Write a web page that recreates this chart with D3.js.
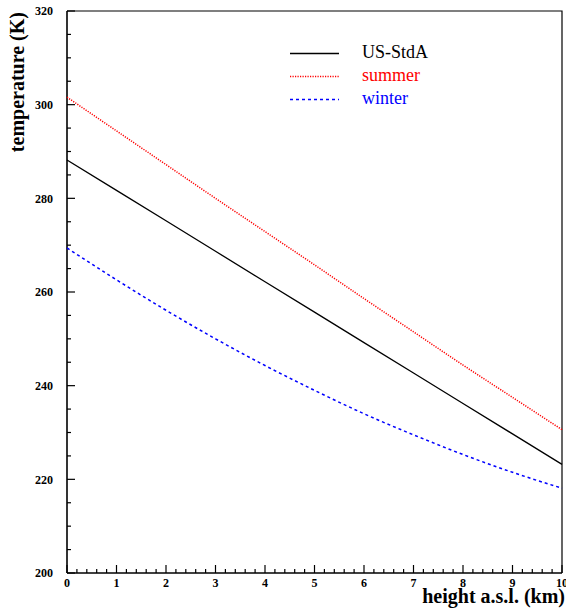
<!DOCTYPE html>
<html>
<head>
<meta charset="utf-8">
<script src="https://cdn.jsdelivr.net/npm/d3@7"></script>
<style>
  html, body { margin: 0; padding: 0; background: #fff; }
  svg { display: block; }
  .tick-label { font-family: "Liberation Serif", "Times New Roman", serif; font-weight: bold; font-size: 12px; fill: #000; }
  .axis-title { font-family: "Liberation Serif", "Times New Roman", serif; font-weight: bold; font-size: 20px; fill: #000; }
  .legend-text { font-family: "Liberation Serif", "Times New Roman", serif; font-size: 18px; }
</style>
</head>
<body>
<script>
// Height above sea level (km) and temperature profiles (K)
const heights   = [0, 1, 2, 3, 4, 5, 6, 7, 8, 9, 10];
const usStdA    = [288.2, 281.7, 275.2, 268.7, 262.2, 255.7, 249.2, 242.7, 236.2, 229.7, 223.2];
const summer    = [301.6, 294.4, 287.2, 280.0, 272.9, 265.8, 258.6, 251.5, 244.4, 237.5, 230.6];
const winter    = [269.4, 262.6, 256.1, 250.0, 244.3, 239.0, 234.0, 229.5, 225.3, 221.5, 218.1];

const seriesNames  = ["US-StdA", "summer", "winter"];
const seriesColors = ["#000000", "#ff0000", "#0000ff"];
const seriesDash   = [null, "1.2,1.3", "3,3"];

const xTicks = [0, 1, 2, 3, 4, 5, 6, 7, 8, 9, 10];
const yTicks = [200, 220, 240, 260, 280, 300, 320];

const W = 566, H = 611;
const plot = { left: 67, right: 562, top: 11, bottom: 573 };

const svg = d3.select("body").append("svg").attr("width", W).attr("height", H);

const x = d3.scaleLinear().domain([0, 10]).range([plot.left, plot.right]);
const y = d3.scaleLinear().domain([200, 320]).range([plot.bottom, plot.top]);

// Frame (top and right edges)
svg.append("path")
  .attr("d", `M${plot.left},${plot.top}H${plot.right}V${plot.bottom}`)
  .attr("fill", "none").attr("stroke", "#000").attr("stroke-width", 1.2);

// Y axis: major ticks every 20 K, minor every 5 K, pointing inward
const yAxis = svg.append("g");
yAxis.append("line")
  .attr("x1", plot.left).attr("x2", plot.left)
  .attr("y1", plot.top).attr("y2", plot.bottom)
  .attr("stroke", "#000").attr("stroke-width", 1.6);
d3.range(200, 320.01, 5).forEach(v => {
  const major = v % 20 === 0;
  yAxis.append("line")
    .attr("x1", plot.left).attr("x2", plot.left + (major ? 8 : 4))
    .attr("y1", y(v)).attr("y2", y(v))
    .attr("stroke", "#000").attr("stroke-width", 1.2);
});
yAxis.selectAll("text.tick-label").data(yTicks).join("text")
  .attr("class", "tick-label")
  .attr("x", 53).attr("y", d => y(d))
  .attr("dy", "0.35em")
  .attr("text-anchor", "end")
  .text(d => d);

// X axis: major ticks every km, minor every 0.2 km, pointing inward
const xAxis = svg.append("g");
xAxis.append("line")
  .attr("x1", plot.left).attr("x2", plot.right)
  .attr("y1", plot.bottom).attr("y2", plot.bottom)
  .attr("stroke", "#000").attr("stroke-width", 1.6);
d3.range(0, 50.5, 1).forEach(i => {
  const v = i * 0.2;
  const major = i % 5 === 0;
  xAxis.append("line")
    .attr("x1", x(v)).attr("x2", x(v))
    .attr("y1", plot.bottom).attr("y2", plot.bottom - (major ? 8 : 4))
    .attr("stroke", "#000").attr("stroke-width", 1.2);
});
xAxis.selectAll("text.tick-label").data(xTicks).join("text")
  .attr("class", "tick-label")
  .attr("x", d => x(d)).attr("y", 586.5)
  .attr("text-anchor", "middle")
  .text(d => d);

// Axis titles
svg.append("text")
  .attr("class", "axis-title")
  .attr("x", 565).attr("y", 603)
  .attr("text-anchor", "end")
  .text("height a.s.l. (km)");

svg.append("text")
  .attr("class", "axis-title")
  .attr("transform", "translate(24,12) rotate(-90)")
  .attr("text-anchor", "end")
  .text("temperature (K)");

// Temperature profiles
const profiles = [usStdA, summer, winter];
const line = d3.line()
  .x((d, i) => x(heights[i]))
  .y(d => y(d))
  .curve(d3.curveMonotoneX);

profiles.forEach((vals, k) => {
  svg.append("path")
    .datum(vals)
    .attr("d", line)
    .attr("fill", "none")
    .attr("stroke", seriesColors[k])
    .attr("stroke-width", k === 0 ? 1.3 : 1.5)
    .attr("stroke-dasharray", seriesDash[k]);
});

// Legend
const legendY = [53.5, 76.5, 99.5];
seriesNames.forEach((name, k) => {
  svg.append("line")
    .attr("x1", 290).attr("x2", 339)
    .attr("y1", legendY[k]).attr("y2", legendY[k])
    .attr("stroke", seriesColors[k])
    .attr("stroke-width", k === 0 ? 1.6 : 1.5)
    .attr("stroke-dasharray", seriesDash[k]);
  svg.append("text")
    .attr("class", "legend-text")
    .attr("x", 362).attr("y", legendY[k] + 4.5)
    .attr("fill", seriesColors[k])
    .text(name);
});
</script>
</body>
</html>
